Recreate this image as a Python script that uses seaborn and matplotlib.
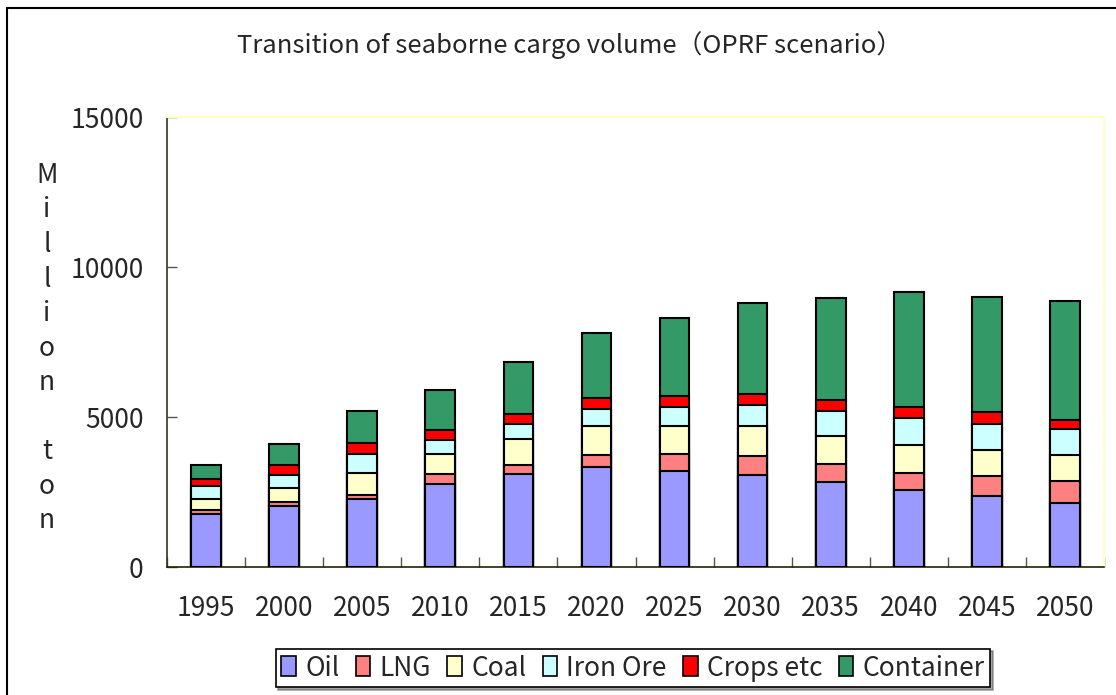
import numpy as np
import pandas as pd
import matplotlib
matplotlib.use('Agg')
import matplotlib.pyplot as plt
from matplotlib.patches import Patch
from matplotlib.lines import Line2D
import seaborn as sns

# values (million ton)
years = ['1995', '2000', '2005', '2010', '2015', '2020', '2025', '2030', '2035', '2040', '2045', '2050']
oil = [1780, 2030, 2270, 2770, 3090, 3320, 3190, 3080, 2820, 2580, 2370, 2130]
lng = [130, 130, 140, 340, 310, 430, 580, 630, 630, 570, 660, 740]
coal = [360, 480, 740, 670, 880, 950, 940, 990, 930, 930, 870, 850]
iron_ore = [440, 440, 620, 440, 490, 570, 620, 700, 820, 890, 880, 870]
crops = [230, 310, 360, 360, 320, 370, 380, 380, 380, 370, 400, 310]
container = [470, 710, 1090, 1320, 1750, 2160, 2600, 3030, 3400, 3840, 3840, 3970]

cargo = ['Oil', 'LNG', 'Coal', 'Iron Ore', 'Crops etc', 'Container']
colors = ['#9999FF', '#FF8080', '#FFFFCC', '#CCFFFF', '#FF0000', '#339966']

df = pd.DataFrame({'year': years, 'Oil': oil, 'LNG': lng, 'Coal': coal,
                   'Iron Ore': iron_ore, 'Crops etc': crops, 'Container': container})
cum = df[cargo].cumsum(axis=1)
cum['year'] = df['year']

sns.set_style('white')
plt.rcParams['font.family'] = ['Noto Sans CJK JP', 'DejaVu Sans']

fig = plt.figure(figsize=(11.16, 6.95), dpi=100)
ax = fig.add_axes([167/1116, 1-567/695, (1104-167)/1116, (567-117.3)/695])

# stacked bars: draw the running totals from the top layer down
for name, col in reversed(list(zip(cargo, colors))):
    sns.barplot(data=cum, x='year', y=name, color=col, saturation=1, width=0.38,
                edgecolor='black', linewidth=1.5, ax=ax, zorder=3)

ax.set_ylim(0, 15000)
ax.set_xlim(-0.5, 11.5)
ax.set_yticks([0, 5000, 10000, 15000])
ax.set_xlabel('')
ax.set_ylabel('')
ax.tick_params(axis='y', direction='in', length=7, width=1, color='#555555',
               labelsize=19, pad=17, left=True)
ax.tick_params(axis='x', which='major', length=0, labelsize=19, pad=20)
ax.set_xticks(np.arange(-0.5, 12, 1), minor=True)
ax.tick_params(axis='x', which='minor', direction='in', length=7, width=1,
               color='#555555', bottom=True)

for s in ['top', 'right']:
    ax.spines[s].set_color('#FFFFC0')
    ax.spines[s].set_linewidth(1.5)
ax.spines['left'].set_color('#333322')
ax.spines['bottom'].set_color('#222200')
for s in ['left', 'bottom']:
    ax.spines[s].set_linewidth(1.2)

fig.text(0.5105, 0.935, 'Transition of seaborne cargo volume（OPRF scenario）',
         ha='center', va='center', fontsize=18.5)

fig.text(47/1116, 0.499, '\n'.join(list('Million ton')), ha='center', va='center',
         multialignment='center', fontsize=19, linespacing=1.36)

handles = [Patch(facecolor=c, edgecolor='black', linewidth=1.2) for c in colors]
leg = fig.legend(handles, cargo, loc='center', bbox_to_anchor=(633/1116, 1-668/695),
                 ncol=6, fontsize=19, frameon=True, fancybox=False, shadow=True,
                 handlelength=0.55, handleheight=0.8, handletextpad=0.35,
                 columnspacing=0.62, borderpad=0.22, borderaxespad=0)
leg.get_frame().set_edgecolor('black')
leg.get_frame().set_linewidth(1.2)

# outer chart frame (left and top edges visible)
fig.add_artist(Line2D([7/1116, 7/1116], [0, 1-8/695], color='black', lw=1.5))
fig.add_artist(Line2D([7/1116, 1], [1-8/695, 1-8/695], color='black', lw=1.5))

fig.savefig('out.png', dpi=100)
